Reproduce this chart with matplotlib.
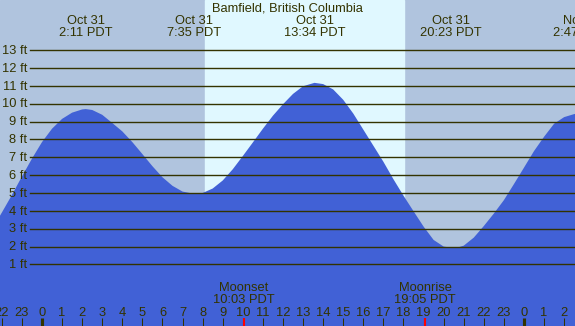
import matplotlib
matplotlib.use('Agg')
import matplotlib.pyplot as plt
from matplotlib.transforms import blended_transform_factory

# tide heights (ft) every half hour, time in hours from 0:00 Oct 31 PDT
tide_hours = [-2.5, -2.0, -1.5, -1.0, -0.5, 0.0, 0.5, 1.0, 1.5, 2.0, 2.18, 2.5, 3.0, 3.5,
              4.0, 4.5, 5.0, 5.5, 6.0, 6.5, 7.0, 7.58, 8.0, 8.5, 9.0, 9.5, 10.0, 10.5,
              11.0, 11.5, 12.0, 12.5, 13.0, 13.57, 14.0, 14.5, 15.0, 15.5, 16.0, 16.5,
              17.0, 17.5, 18.0, 18.5, 19.0, 19.5, 20.0, 20.38, 20.8, 21.0, 21.5, 22.0,
              22.5, 23.0, 23.5, 24.0, 24.5, 25.0, 25.5, 26.0, 26.5, 26.78, 27.0]
tide_ft = [2.95, 3.9, 4.88, 5.92, 6.92, 7.85, 8.6, 9.15, 9.5, 9.68, 9.7, 9.65, 9.38, 8.92,
           8.45, 7.85, 7.18, 6.5, 5.88, 5.4, 5.08, 4.95, 5.0, 5.25, 5.7, 6.33, 7.07, 7.83,
           8.6, 9.33, 9.97, 10.55, 10.98, 11.17, 11.1, 10.8, 10.22, 9.45, 8.55, 7.65,
           6.75, 5.77, 4.85, 3.98, 3.12, 2.37, 2.0, 1.93, 1.98, 2.05, 2.5, 3.15,
           3.85, 4.6, 5.5, 6.42, 7.35, 8.15, 8.88, 9.25, 9.42, 9.48, 9.47]

# high / low tide labels
extreme_hours = [2.18, 7.58, 13.57, 20.38, 26.78]
extreme_dates = ['Oct 31', 'Oct 31', 'Oct 31', 'Oct 31', 'Nov 1']
extreme_times = ['2:11 PDT', '7:35 PDT', '13:34 PDT', '20:23 PDT', '2:47 PDT']

sunrise, sunset = 8.12, 18.03
moon_hours = [10.05, 19.08]
moon_names = ['Moonset', 'Moonrise']
moon_times = ['10:03 PDT', '19:05 PDT']

ft_levels = list(range(1, 14))
hour_ticks = list(range(-2, 27))

# pixel-ish layout
W, H = 575, 326
x0, x1 = -2.09, 26.54
y0, y1 = -2.45, 15.81
night = '#b0c4de'
day = '#e0f8ff'
water = '#4161d6'
ink = '#333300'
fs = 9.3

plt.rcParams['font.family'] = ['Liberation Sans', 'DejaVu Sans']

fig = plt.figure(figsize=(W / 100, H / 100), dpi=100)
ax = fig.add_axes([0, 0, 1, 1])
ax.set_xlim(x0, x1)
ax.set_ylim(y0, y1)
ax.set_axis_off()
ax.add_patch(plt.Rectangle((x0, y0), x1 - x0, y1 - y0, color=night, zorder=0))
ax.axvspan(sunrise, sunset, color=day, zorder=1)

ax.fill_between(tide_hours, tide_ft, y0, color=water, linewidth=0, zorder=2)

# ft grid lines + labels
px_ft = (y1 - y0) / H
px_h = (x1 - x0) / W
gx = x0 + 29.5 * px_h
for f in ft_levels:
    ax.plot([gx, x1], [f, f], color=ink, lw=1.0, zorder=3)
    ax.text(gx - 2.5 * px_h, f - 3.7 * px_ft, f'{f} ft', ha='right', va='baseline',
            fontsize=fs, color=ink, zorder=4)

tr = blended_transform_factory(ax.transData, ax.transAxes)
fy = lambda py: 1 - py / H

ax.text(0.5, fy(11.5), 'Bamfield, British Columbia', transform=ax.transAxes,
        ha='center', va='baseline', fontsize=fs, color=ink)
for h, d, t in zip(extreme_hours, extreme_dates, extreme_times):
    ax.text(h, fy(24), d, transform=tr, ha='center', va='baseline', fontsize=fs, color=ink)
    ax.text(h, fy(36), t, transform=tr, ha='center', va='baseline', fontsize=fs, color=ink)

# hour ticks along the bottom
for h in hour_ticks:
    ax.text(h, fy(316), str(h % 24), transform=tr, ha='center', va='baseline',
            fontsize=fs, color=ink)
    lw = 3 if h % 24 == 0 else 1
    ax.plot([h, h], [0, fy(318)], transform=tr, color=ink, lw=lw * 0.75, solid_capstyle='butt')

for h, n, t in zip(moon_hours, moon_names, moon_times):
    ax.plot([h, h], [0, fy(318)], transform=tr, color='red', lw=1.5, solid_capstyle='butt')
    ax.text(h, fy(291), n, transform=tr, ha='center', va='baseline', fontsize=fs, color=ink)
    ax.text(h, fy(303), t, transform=tr, ha='center', va='baseline', fontsize=fs, color=ink)

fig.savefig('out.png', dpi=100)
